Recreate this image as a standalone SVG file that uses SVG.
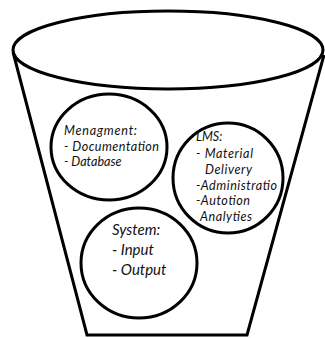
<svg xmlns="http://www.w3.org/2000/svg" width="325" height="338" viewBox="0 0 325 338">
  <style>
    .shape { fill: none; stroke: #000; stroke-width: 3; }
    .label { font-family: Lato, "Open Sans", "Liberation Sans", sans-serif; font-style: italic; fill: #111; }
    .small { font-size: 12.6px; }
    .big { font-size: 15px; }
  </style>
  <rect width="325" height="338" fill="#fff"/>
  <!-- bucket outline -->
  <g id="bucket">
    <path class="shape" d="M13,52 L87,335 L247,335 L324,55"/>
    <ellipse class="shape" cx="168" cy="50" rx="155" ry="39"/>
  </g>
  <g id="management">
    <ellipse class="shape" cx="109" cy="147" rx="58" ry="53"/>
    <text class="label small" x="64" y="135" textLength="73">Menagment:</text>
    <text class="label small" x="64" y="150.5" textLength="95">- Documentation</text>
    <text class="label small" x="64" y="166">- Database</text>
  </g>
  <g id="lms">
    <ellipse class="shape" cx="228" cy="178" rx="55" ry="55"/>
    <text class="label small" x="196" y="141">LMS:</text>
    <text class="label small" x="196" y="157.5" textLength="57">- Material</text>
    <text class="label small" x="205" y="173.5" textLength="47">Delivery</text>
    <text class="label small" x="196" y="189.5" textLength="81">-Administratio</text>
    <text class="label small" x="196" y="205" textLength="54">-Autotion</text>
    <text class="label small" x="200" y="220.5" textLength="52">Analyties</text>
  </g>
  <g id="system">
    <ellipse class="shape" cx="139" cy="263" rx="58" ry="55"/>
    <text class="label big" x="112" y="235">System:</text>
    <text class="label big" x="112" y="255">- Input</text>
    <text class="label big" x="112" y="275">- Output</text>
  </g>
  <g id="connectors"/>
</svg>
